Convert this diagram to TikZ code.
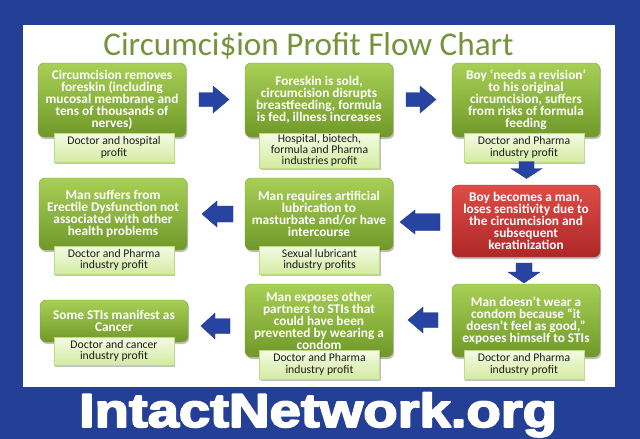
\documentclass[tikz,border=0pt]{standalone}
\usepackage{fontspec}
\setmainfont{Carlito}
\newfontfamily\bigfont{Liberation Sans}
\usetikzlibrary{shadows}
\definecolor{bgblue}{HTML}{233F96}
\definecolor{arrowblue}{HTML}{2844A3}
\definecolor{arrowedge}{HTML}{1E3585}
\definecolor{titlegreen}{HTML}{76923C}
\definecolor{gtop}{HTML}{A8D056}
\definecolor{gbot}{HTML}{6F9829}
\definecolor{gedge}{HTML}{7FA33A}
\definecolor{rtop}{HTML}{DE4D47}
\definecolor{rbot}{HTML}{AE2727}
\definecolor{redge}{HTML}{B03434}
\definecolor{stop}{HTML}{F5FBE4}
\definecolor{sbot}{HTML}{D3EBA2}
\definecolor{sedge}{HTML}{BFDB86}
\definecolor{subtext}{HTML}{1C1C1C}
\tikzset{
  boxshadow/.style={drop shadow={shadow xshift=1.2pt,shadow yshift=-2pt,opacity=0.35,fill=black!70}},
  mainbox/.style={rounded corners=6pt, minimum width=148pt, inner sep=1pt, align=center,
    text=white, font=\fontsize{13.3}{12}\selectfont\bfseries,
    top color=gtop, bottom color=gbot, draw=gedge, line width=0.4pt, boxshadow},
  redbox/.style={mainbox, top color=rtop, bottom color=rbot, draw=redge},
  subbox/.style={minimum width=120pt, inner sep=1pt, align=center, text=subtext,
    font=\fontsize{11.7}{11.3}\selectfont,
    top color=stop, bottom color=sbot, draw=sedge, line width=0.5pt, boxshadow},
  pics/barrow/.style n args={4}{code={
    \filldraw[fill=arrowblue, draw=arrowedge, line width=0.4pt]
      (-#1/2,-#4) -- (#1/2-#2,-#4) -- (#1/2-#2,-#3) -- (#1/2,0) --
      (#1/2-#2,#3) -- (#1/2-#2,#4) -- (-#1/2,#4) -- cycle;}}
}
\begin{document}
\begin{tikzpicture}[x=1pt,y=-1pt]
\useasboundingbox (0,0) rectangle (640,439);
\fill[bgblue] (0,0) rectangle (640,439);
\fill[white] (23,25) rectangle (615,387);

\node[anchor=base, text=titlegreen, font=\fontsize{33.2}{34}\selectfont] (title) at (308.5,55) {Circumci\$ion Profit Flow Chart};

% row 1
\node[mainbox, minimum height=74pt] (n1) at (112,100) {Circumcision removes\\foreskin (including\\mucosal membrane and\\tens of thousands of\\nerves)};
\node[subbox, minimum height=29pt] (p1) at (114,147.5) {Doctor and hospital\\profit};
\node[mainbox, minimum height=74pt] (n2) at (319,100) {Foreskin is sold,\\circumcision disrupts\\breastfeeding, formula\\is fed, illness increases};
\node[subbox, minimum height=35pt] (p2) at (319.5,150.5) {Hospital, biotech,\\formula and Pharma\\industries profit};
\node[mainbox, minimum height=74pt] (n3) at (526,100) {Boy ‘needs a revision’\\to his original\\circumcision, suffers\\from risks of formula\\feeding};
\node[subbox, minimum height=29pt] (p3) at (524,147.5) {Doctor and Pharma\\industry profit};

% row 2
\node[redbox, minimum height=72pt] (n4) at (526,221) {Boy becomes a man,\\loses sensitivity due to\\the circumcision and\\subsequent\\keratinization};
\node[mainbox, minimum height=72pt] (n5) at (319,214) {Man requires artificial\\lubrication to\\masturbate and/or have\\intercourse};
\node[subbox, minimum height=28pt] (p5) at (319.5,260) {Sexual lubricant\\industry profits};
\node[mainbox, minimum height=72pt] (n6) at (113,214) {Man suffers from\\Erectile Dysfunction not\\associated with other\\health problems};
\node[subbox, minimum height=28pt] (p6) at (114,260) {Doctor and Pharma\\industry profit};

% row 3
\node[mainbox, minimum height=73pt] (n7) at (526,320.5) {Man doesn’t wear a\\condom because “it\\doesn’t feel as good,”\\exposes himself to STIs};
\node[subbox, minimum height=29pt] (p7) at (524,364.5) {Doctor and Pharma\\industry profit};
\node[mainbox, minimum height=73pt] (n8) at (319,320.5) {Man exposes other\\partners to STIs that\\could have been\\prevented by wearing a\\condom};
\node[subbox, minimum height=29pt] (p8) at (319.5,364.5) {Doctor and Pharma\\industry profit};
\node[mainbox, minimum height=42pt] (n9) at (114,321) {Some STIs manifest as\\Cancer};
\node[subbox, minimum height=28pt] (p9) at (114,351) {Doctor and cancer\\industry profit};

% block arrows
\pic at (214,99.5) {barrow={30}{16}{13.5}{7}};
\pic at (421,99.5) {barrow={30}{16}{13.5}{7}};
\pic[rotate=-90] at (526.5,170) {barrow={17}{10}{15.5}{7.5}};
\pic[rotate=180] at (217.5,214) {barrow={31}{15}{13}{8}};
\pic[rotate=180] at (420,222) {barrow={40}{15}{12}{8.5}};
\pic[rotate=-90] at (524,273) {barrow={20}{11}{16}{8}};
\pic[rotate=180] at (215.5,326) {barrow={29}{14}{13}{7.5}};
\pic[rotate=180] at (423,320) {barrow={30}{15}{13}{7.5}};

\node[anchor=base, text=white, inner sep=0pt] (logo) at (318,427) {\resizebox{478pt}{34.5pt}{\special{pdf:literal direct 2 Tr 0.35 w 1 1 1 RG 0 J 1 j}\bigfont\bfseries IntactNetwork.org\special{pdf:literal direct 0 Tr}}};
\end{tikzpicture}
\end{document}
